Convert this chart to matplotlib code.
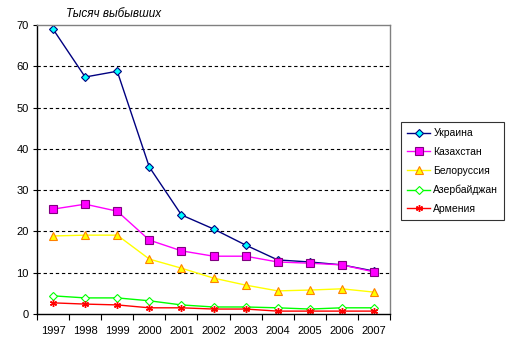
import matplotlib
matplotlib.use("Agg")
import matplotlib.pyplot as plt
import numpy as np

plt.rcParams['font.family'] = ['Liberation Sans', 'DejaVu Sans']

# данные
years = ['1997', '1998', '1999', '2000', '2001', '2002', '2003', '2004', '2005', '2006', '2007']
ukraine = [69.0, 57.4, 58.8, 35.6, 24.0, 20.6, 16.7, 13.1, 12.6, 11.9, 10.4]
kazakhstan = [25.4, 26.6, 24.9, 17.9, 15.3, 14.0, 14.0, 12.6, 12.3, 11.9, 10.2]
belarus = [18.9, 19.1, 19.1, 13.3, 11.1, 8.7, 7.0, 5.6, 5.8, 6.1, 5.3]
azerbaijan = [4.4, 3.9, 3.9, 3.2, 2.2, 1.7, 1.7, 1.5, 1.2, 1.5, 1.5]
armenia = [2.7, 2.4, 2.2, 1.5, 1.5, 1.2, 1.2, 0.7, 0.7, 0.7, 0.7]

fig = plt.figure(figsize=(5.17, 3.56), dpi=100)
ax = fig.add_axes([37/517, 42/356, 353/517, 289/356])

x = np.arange(len(years))
ax.plot(x, ukraine, color='#000080', lw=1, marker='D', ms=4.5, mfc='#00ffff', mec='#000080', mew=0.8, label='Украина')
ax.plot(x, kazakhstan, color='#ff00ff', lw=1, marker='s', ms=5.5, mfc='#ff00ff', mec='#800080', mew=0.8, label='Казахстан')
ax.plot(x, belarus, color='#ffff00', lw=1, marker='^', ms=6, mfc='#ffff00', mec='#ff8000', mew=0.8, label='Белоруссия')
ax.plot(x, azerbaijan, color='#00ff00', lw=1, marker='D', ms=4, mfc='white', mec='#00ff00', mew=0.8, label='Азербайджан')
ax.plot(x, armenia, color='#ff0000', lw=1, marker=(6, 2, 0), ms=5, mec='#ff0000', mew=1, label='Армения')

ax.set_xlim(-0.5, 10.5)
ax.set_ylim(0, 70)
ax.set_yticks(range(0, 71, 10))
ax.set_xticks(x)
ax.set_xticklabels(years)
ax.set_xticks(np.arange(-0.5, 11, 1), minor=True)
ax.tick_params(axis='x', which='major', length=0, pad=9, labelsize=8)
ax.tick_params(axis='x', which='minor', length=4, direction='out', width=0.8)
ax.tick_params(axis='y', length=3, direction='out', width=0.8, labelsize=8, pad=3)

for yv in range(10, 70, 10):
    ax.axhline(yv, color='black', lw=0.8, ls=(0, (3, 2.5)), zorder=0)

ax.spines['left'].set_color('black')
ax.spines['bottom'].set_color('black')
ax.spines['top'].set_color('#808080')
ax.spines['right'].set_color('#808080')
for s in ax.spines.values():
    s.set_linewidth(1)

fig.text(66/517, 1 - 14/356, 'Тысяч выбывших', fontsize=8.5, style='italic', va='center', ha='left')

leg = fig.legend(loc='upper left', bbox_to_anchor=(401/517, 1 - 122/356), fontsize=7.5,
                 frameon=True, fancybox=False, edgecolor='black', handlelength=2.2,
                 labelspacing=0.85, borderpad=0.6, handletextpad=0.3, borderaxespad=0)
leg.get_frame().set_linewidth(0.8)

fig.savefig('out.png', dpi=100)
